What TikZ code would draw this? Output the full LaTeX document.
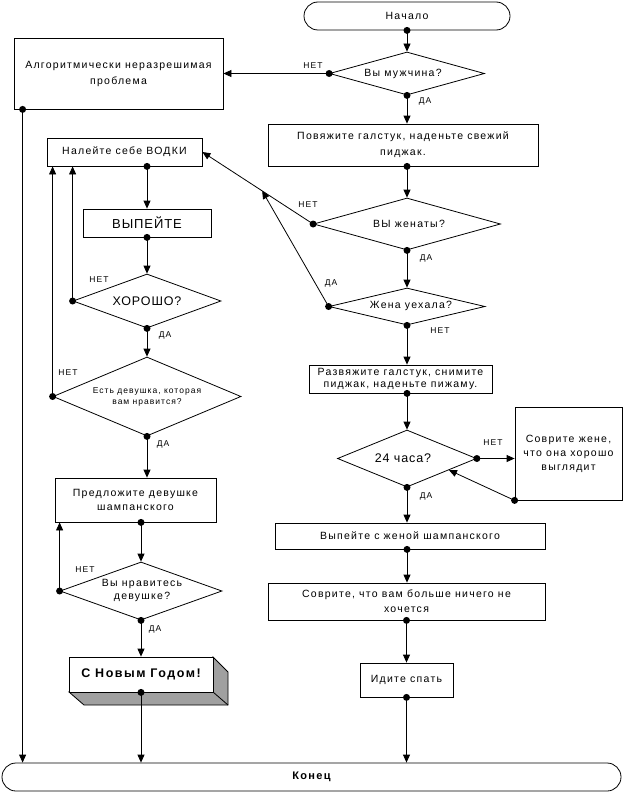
\documentclass[tikz,border=0pt]{standalone}
\usepackage{fontspec}
\setmainfont{Liberation Sans}
\newfontfamily\nf{Liberation Sans}[LetterSpace=12]
\newfontfamily\nfw{Liberation Sans}[LetterSpace=7]
\usetikzlibrary{shapes.geometric,arrows.meta,calc}
\definecolor{shadegray}{RGB}{160,160,160}
\begin{document}
\begin{tikzpicture}[x=1pt,y=-1pt,line width=0.8pt,
  pbox/.style={draw,rectangle,inner sep=0pt,align=center,font=\nf\fontsize{10.5}{14}\selectfont},
  term/.style={pbox,rounded corners=14pt},
  dia/.style={draw,diamond,inner sep=0pt},
  dtext/.style={inner sep=0pt,align=center,font=\nf\fontsize{10.5}{14}\selectfont},
  bigtext/.style={font=\nfw\fontsize{12.5}{15}\selectfont},
  lbl/.style={inner sep=0pt,font=\nf\fontsize{8.5}{9}\selectfont},
  arr/.style={-{Triangle[length=8pt,width=7pt]}}]
\fill[white] (0,0) rectangle (623,792);
\useasboundingbox (0,0) rectangle (623,792);

% right column
\node[term,minimum width=206,minimum height=28] (nach) at (407,16) {Начало};
\node[pbox,minimum width=209,minimum height=71,font=\nf\fontsize{10.5}{16}\selectfont] (algo) at (118.5,73.5) {Алгоритмически неразрешимая\\проблема};
\node[dia,minimum width=155,minimum height=43] (d1) at (407,73.5) {};
\node[dtext] (t1) at (403,73.5) {Вы мужчина?};
\node[pbox,minimum width=270,minimum height=42,font=\nf\fontsize{10.5}{16}\selectfont] (pov) at (403,145) {Повяжите галстук, наденьте свежий\\пиджак.};
\node[dia,minimum width=187,minimum height=52] (d2) at (407,224) {};
\node[dtext] (t2) at (409,224) {ВЫ женаты?};
\node[dia,minimum width=156,minimum height=37] (d3) at (407,306.5) {};
\node[dtext] (t3) at (411,306) {Жена уехала?};
\node[pbox,minimum width=183,minimum height=28,font=\nf\fontsize{10.5}{12.5}\selectfont] (razv) at (400.5,379) {Развяжите галстук, снимите\\пиджак, наденьте пижаму.};
\node[dia,minimum width=139,minimum height=57] (d4) at (407,458.5) {};
\node[dtext,bigtext] (t4) at (403,458) {24 часа?};
\node[pbox,minimum width=107,minimum height=93] (sov1) at (568.5,453.5) {Соврите жене,\\что она хорошо\\выглядит};
\node[pbox,minimum width=270,minimum height=26] (vyp2) at (410,536) {Выпейте с женой шампанского};
\node[pbox,minimum width=277,minimum height=37,font=\nf\fontsize{10.5}{15}\selectfont] (sov2) at (406.5,601.5) {Соврите, что вам больше ничего не\\хочется};
\node[pbox,minimum width=93,minimum height=34] (idi) at (406.5,680) {Идите спать};
\node[term,minimum width=619,minimum height=28,font=\nf\bfseries\fontsize{11}{13}\selectfont] (kon) at (311.5,777) {Конец};

% left column
\node[pbox,minimum width=155,minimum height=28] (nal) at (124.5,152) {Налейте себе ВОДКИ};
\node[pbox,minimum width=128,minimum height=28,font=\nfw\fontsize{13}{15}\selectfont] (vyp) at (147,223) {ВЫПЕЙТЕ};
\node[dia,minimum width=148,minimum height=54] (d5) at (147,301) {};
\node[dtext,bigtext] (t5) at (147,301) {ХОРОШО?};
\node[dia,minimum width=188,minimum height=79] (d6) at (147,396.5) {};
\node[dtext,font=\nf\fontsize{8.5}{11.5}\selectfont] (t6) at (147,397) {Есть девушка, которая\\вам нравится?};
\node[pbox,minimum width=161,minimum height=44] (pred) at (135.5,500) {Предложите девушке\\шампанского};
\node[dia,minimum width=162,minimum height=58] (d7) at (141,591) {};
\node[dtext,font=\nf\fontsize{10.5}{13}\selectfont] (t7) at (142,590) {Вы нравитесь\\девушке?};
\fill[shadegray,draw=black] (69,692) -- (84,705) -- (228,705) -- (228,672) -- (213,657) -- (213,692) -- cycle;
\draw (213,692) -- (228,705);
\node[pbox,fill=white,minimum width=144,minimum height=35,font=\nf\bfseries\fontsize{12.5}{14}\selectfont] (ny) at (141,674.5) {С Новым Годом!};

% helper coordinates
\coordinate (povb) at (pov.south -| d2.north);
\coordinate (razvb) at (razv.south -| d4.north);
\coordinate (vyp2b) at (vyp2.south -| d4.north);
\coordinate (nalb) at (nal.south -| vyp.north);
\coordinate (predb) at (pred.south -| d7.north);
\coordinate (aldot) at ([xshift=9pt]algo.south west);
\coordinate (jn) at ($(d2.west)!0.46!(nal.east)$);
\coordinate (je) at ($(d4.east)!0.4!(d4.south)$);

% connectors
\draw[arr] (nach.south) -- (d1.north);
\draw[arr] (d1.west) -- (algo.east);
\draw[arr] (d1.south) -- (d1.south |- pov.north);
\draw[arr] (povb) -- (d2.north);
\draw[arr] (d2.west) -- (nal.east);
\draw[arr] (d2.south) -- (d3.north);
\draw[arr] (d3.west) -- (jn);
\draw[arr] (d3.south) -- (d3.south |- razv.north);
\draw[arr] (razvb) -- (d4.north);
\draw[arr] (d4.east) -- (d4.east -| sov1.west);
\draw[arr] (sov1.south west) -- (je);
\draw[arr] (d4.south) -- (d4.south |- vyp2.north);
\draw[arr] (vyp2b) -- (vyp2b |- sov2.north);
\draw[arr] (sov2.south) -- (idi.north);
\draw[arr] (idi.south) -- (idi.south |- kon.north);
\draw[arr] (aldot) -- (aldot |- kon.north);
\draw[arr] (nalb) -- (vyp.north);
\draw[arr] (vyp.south) -- (d5.north);
\draw[arr] (d5.west) -- (d5.west |- nal.south);
\draw[arr] (d5.south) -- (d6.north);
\draw[arr] (d6.west) -- (d6.west |- nal.south);
\draw[arr] (d6.south) -- (d6.south |- pred.north);
\draw[arr] (predb) -- (d7.north);
\draw[arr] (d7.west) -- (d7.west |- pred.south);
\draw[arr] (d7.south) -- (ny.north);
\draw[arr] (ny.south) -- (ny.south |- kon.north);

% start dots
\foreach \p in {nach.south,d1.west,d1.south,povb,d2.west,d2.south,d3.west,d3.south,razvb,d4.east,sov1.south west,d4.south,vyp2b,sov2.south,idi.south,aldot,nalb,vyp.south,d5.west,d5.south,d6.west,d6.south,predb,d7.west,d7.south,ny.south}
  \fill (\p) circle[radius=3.5pt];

% labels
\node[lbl] (l1) at (313,66) {НЕТ};
\node[lbl] (l2) at (425,101) {ДА};
\node[lbl] (l3) at (308,205) {НЕТ};
\node[lbl] (l4) at (426,258) {ДА};
\node[lbl] (l5) at (331,283) {ДА};
\node[lbl] (l6) at (440,331) {НЕТ};
\node[lbl] (l7) at (493,443) {НЕТ};
\node[lbl] (l8) at (426,496) {ДА};
\node[lbl] (l9) at (99,280) {НЕТ};
\node[lbl] (l10) at (165,335) {ДА};
\node[lbl] (l11) at (68,373) {НЕТ};
\node[lbl] (l12) at (163,444) {ДА};
\node[lbl] (l13) at (85,570) {НЕТ};
\node[lbl] (l14) at (155,629) {ДА};
\end{tikzpicture}
\end{document}
